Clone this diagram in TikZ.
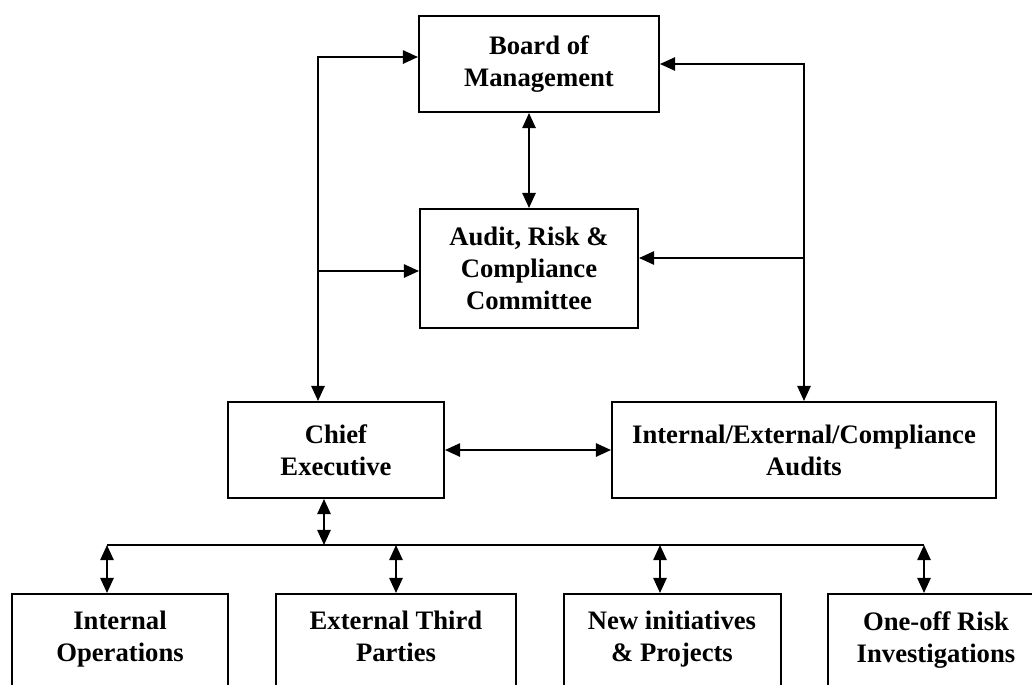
\documentclass[tikz,border=0pt]{standalone}
\usepackage{fontspec}
\setmainfont{Liberation Serif}
\usetikzlibrary{arrows.meta,positioning}
\tikzset{
  unit/.style={draw,line width=0.9pt,inner sep=0pt,align=center,
    font=\fontsize{12}{14.4}\selectfont\bfseries,minimum height=43.2pt},
  tag/.style={inner sep=0pt,align=center,font=\fontsize{12}{14.4}\selectfont\bfseries},
  tip/.tip={Triangle[length=6.8pt,width=6pt]},
  link/.style={line width=0.8pt,tip-tip},
  feed/.style={line width=0.8pt,-tip}
}
\newcommand{\Unit}[4]% pos, name, width, text
{\node[unit,minimum width=#3] (#2) at (#1) {#4};}
\newcommand{\Low}[4]% x, name, width, text
{\node[unit,minimum width=#3,minimum height=57pt,anchor=north] (#2) at (#1,593) {};
  \node[tag,below=8pt of #2.north] (#2 text) {#4};
}

\begin{document}
\begin{tikzpicture}[x=0.45pt,y=-0.45pt]
  \useasboundingbox (0,0) rectangle (1032,684);
  \clip (0,0) rectangle (1032,684);
  \Unit{539,64}{Board}{108pt}{Board of\\Management}
  \node[unit,minimum width=98.1pt,minimum height=53.55pt] (ARC) at (529,268.5)
    {Audit, Risk \&\\Compliance\\Committee};
  \Unit{336,450}{Chief}{97.2pt}{Chief\\Executive}
  \Unit{804,450}{Audits}{172.8pt}{Internal/External/Compliance\\Audits}
  % lower row runs off the bottom edge
  \Low{120}{ops}{97.2pt}{Internal\\Operations}
  \Low{396}{ext}{108pt}{External Third\\Parties}
  \Low{672}{proj}{97.65pt}{New initiatives\\\& Projects}
  \Low{936}{risk}{97.2pt}{One-off Risk\\Investigations}
  % corners of the side lines and the bus
  \coordinate (ltop) at (318,57);
  \coordinate (lmid) at (318,271);
  \coordinate (rtop) at (804,64);
  \coordinate (rmid) at (804,258);
  \coordinate (bus) at (324,545);
  \coordinate (d1) at (107,545);
  \coordinate (d2) at (396,545);
  \coordinate (d3) at (660,545);
  \coordinate (d4) at (924,545);
  \draw[link] (ltop -| Board.west) -- (ltop) -- (ltop |- Chief.north);
  \draw[feed] (lmid) -- (lmid -| ARC.west);
  \draw[link] (rtop -| Board.east) -- (rtop) -- (Audits.north);
  \draw[feed] (rmid) -- (rmid -| ARC.east);
  \draw[link] (Board.south -| ARC.north) -- (ARC.north);
  \draw[link] (Chief.east) -- (Audits.west);
  \draw[link] (bus |- Chief.south) -- (bus);
  \draw[line width=0.8pt] (d1) -- (d4);
  \foreach \d/\n in {d1/ops,d2/ext,d3/proj,d4/risk}
    \draw[link] (\d) -- (\d |- \n.north);
\end{tikzpicture}
\end{document}
